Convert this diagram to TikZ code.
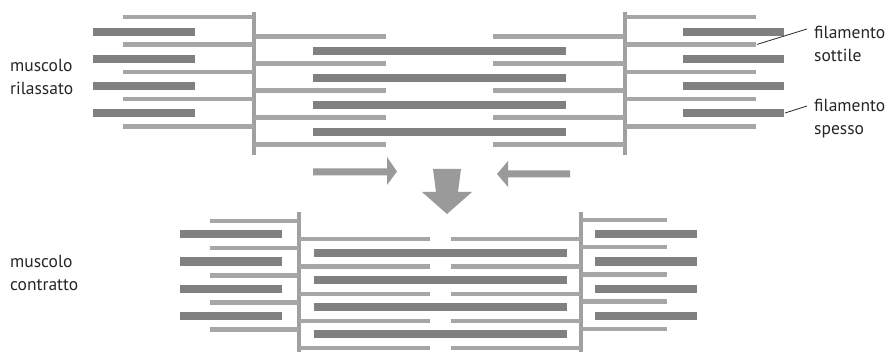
\documentclass[tikz,border=0pt]{standalone}
\usepackage{fontspec}
\setmainfont{PT Sans}
\begin{document}
\begin{tikzpicture}[x=1pt,y=-1pt,
  thin/.style={line width=4.3pt,draw=thingray},
  thick/.style={line width=8.5pt,draw=thickgray},
  zline/.style={line width=4.3pt,draw=zgray},
  bigarrow/.style={fill=arrowgray,draw=none},
  leader/.style={draw=black!85,line width=0.8pt},
  lbl/.style={font=\fontsize{17.5}{23}\selectfont,align=left,inner sep=0pt,text=black!85}]
\definecolor{thingray}{HTML}{A6A6A6}
\definecolor{thickgray}{HTML}{808080}
\definecolor{zgray}{HTML}{A0A0A0}
\definecolor{arrowgray}{HTML}{9A9A9A}
\useasboundingbox (0,0) rectangle (890,352);

% ---------- relaxed sarcomere ----------
\draw[zline] (254,12) -- (254,155);
\draw[zline] (625,12) -- (625,155);
\foreach \y in {17,44.4,71.8,99.2,126.6}{
  \draw[thin] (123,\y) -- (254,\y);
  \draw[thin] (625,\y) -- (756,\y);
}
\foreach \y in {36.6,63.6,90.6,117.6,144.6}{
  \draw[thin] (254,\y) -- (386,\y);
  \draw[thin] (493,\y) -- (625,\y);
}
\foreach \y in {31.8,58.8,86,113}{
  \draw[thick] (93,\y) -- (195,\y);
  \draw[thick] (683,\y) -- (784,\y);
}
\foreach \y in {51,78,105,132}{
  \draw[thick] (313,\y) -- (566,\y);
}

% ---------- contraction arrows ----------
\fill[bigarrow] (313,168.5) -- (387,168.5) -- (387,157) -- (397,171.5)
  -- (387,185) -- (387,175.5) -- (313,175.5) -- cycle;
\fill[bigarrow] (570,170.5) -- (508,170.5) -- (508,161) -- (497,174)
  -- (508,187) -- (508,177.5) -- (570,177.5) -- cycle;
\fill[bigarrow] (433,169) -- (461,169) -- (458,192) -- (472,192)
  -- (447,214) -- (422,192) -- (436,192) -- cycle;

% ---------- contracted sarcomere ----------
\draw[zline] (299,212) -- (299,352);
\draw[zline] (581,212) -- (581,352);
\foreach \y in {221,248,275.5,302.5,329.5}{
  \draw[thin] (210,\y) -- (299,\y);
}
\foreach \y in {220,247,274.5,301.5,329}{
  \draw[thin] (581,\y) -- (667,\y);
}
\foreach \y in {239,266.5,294,321,348}{
  \draw[thin] (299,\y) -- (430,\y);
  \draw[thin] (451,\y) -- (581,\y);
}
\foreach \y in {234,261.5,289,316}{
  \draw[thick] (180,\y) -- (282,\y);
  \draw[thick] (595,\y) -- (697,\y);
}
\foreach \y in {253,280,307,334}{
  \draw[thick] (314,\y) -- (567,\y);
}

% ---------- labels ----------
\node[lbl,anchor=west] (relaxed) at (10,77) {muscolo\\rilassato};
\node[lbl,anchor=west] (contracted) at (10,273) {muscolo\\contratto};
\node[lbl,anchor=west] (thinlbl) at (814,44) {filamento\\sottile};
\node[lbl,anchor=west] (thicklbl) at (814,118.5) {filamento\\spesso};
\coordinate (thintip) at (757,44.4);
\coordinate (thicktip) at (785,113);
\draw[leader] (thintip) -- (807,29);
\draw[leader] (thicktip) -- (807,106);
\end{tikzpicture}
\end{document}
